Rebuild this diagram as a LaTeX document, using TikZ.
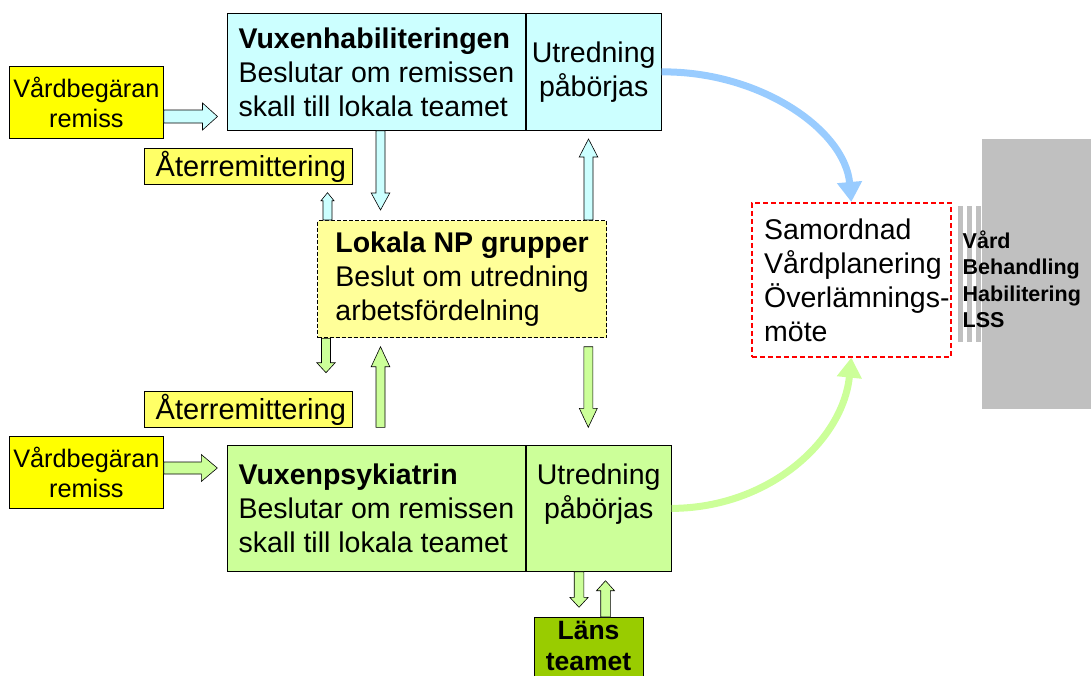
\documentclass[tikz,border=0pt]{standalone}
\usepackage{fontspec}
\setmainfont{Liberation Sans}
\usetikzlibrary{calc,arrows.meta}

\definecolor{hablue}{HTML}{CCFFFF}
\definecolor{psygreen}{HTML}{CCFF99}
\definecolor{remyellow}{HTML}{FFFF00}
\definecolor{remityellow}{HTML}{FFFF66}
\definecolor{npyellow}{HTML}{FFFF99}
\definecolor{lansgreen}{HTML}{99CC00}
\definecolor{arcblue}{HTML}{99CCFF}
\definecolor{lssgray}{HTML}{C0C0C0}

\tikzstyle{box} = [draw, line width=0.8pt, inner sep=0pt, anchor=north west, align=left, font=\fontsize{28.5}{34}\selectfont]
\tikzstyle{remiss} = [box, fill=remyellow, align=center, minimum width=154pt, minimum height=72pt, font=\fontsize{25.3}{30}\selectfont]
\tikzstyle{remit} = [box, fill=remityellow, minimum width=208pt, minimum height=36pt, font=\fontsize{29}{34}\selectfont]
\tikzstyle{arc} = [line width=7pt, -{Triangle[length=20pt,width=24pt]}]
\tikzset{blockarrow/.style n args={3}{draw, line width=0.6pt, to path={
  let \p1=($(\tikztotarget)!#3!(\tikztostart)$) in
  ($(\tikztostart)!#1!90:(\tikztotarget)$) -- ($(\p1)!#1!90:(\tikztotarget)$)
  -- ($(\p1)!#2!90:(\tikztotarget)$) -- (\tikztotarget)
  -- ($(\p1)!#2!-90:(\tikztotarget)$) -- ($(\p1)!#1!-90:(\tikztotarget)$)
  -- ($(\tikztostart)!#1!-90:(\tikztotarget)$) -- cycle}}}

\begin{document}
\begin{tikzpicture}[x=1pt, y=-1pt]
    \useasboundingbox (0,0) rectangle (1091,675);

    % habilitering
    \node (vhL) [box, fill=hablue, minimum width=298pt, minimum height=117pt] at (227,13) {\textbf{Vuxenhabiliteringen}\\Beslutar om remissen\\skall till lokala teamet};
    \node (vhR) [box, fill=hablue, align=center, minimum width=135pt, minimum height=117pt] at (vhL.north east) {Utredning\\påbörjas};

    \node (vbA) [remiss] at (9,66) {Vårdbegäran\\remiss};
    \coordinate (remA) at (217.5,116.5);
    \draw [blockarrow={6.5pt}{13.5pt}{15pt}, fill=hablue] (vbA.east |- remA) to (remA);

    \node (atA) [remit] at (144,148) {\,Återremittering};

    % lokala NP grupper
    \node (np) [box, fill=npyellow, dashed, dash pattern=on 4pt off 2pt, line width=1.3pt, minimum width=289pt, minimum height=117pt] at (317,220) {\textbf{Lokala NP grupper}\\Beslut om utredning\\arbetsfördelning};

    \coordinate (downA) at (380.5,210);
    \draw [blockarrow={4.5pt}{9.3pt}{17pt}, fill=hablue] (vhL.south -| downA) to (downA);
    \coordinate (upA) at (588.5,139);
    \draw [blockarrow={4.5pt}{9.3pt}{18pt}, fill=hablue] (np.north -| upA) to (upA);
    \coordinate (backA) at (327.5,192.7);
    \draw [blockarrow={4.5pt}{6.5pt}{8pt}, fill=hablue] (np.north -| backA) to (backA);

    \coordinate (backB) at (326,372.7);
    \draw [blockarrow={4.5pt}{9.2pt}{10pt}, fill=psygreen] (np.south -| backB) to (backB);
    \coordinate (upBs) at (380.5,427.3);
    \coordinate (upB) at (380.5,346.7);
    \draw [blockarrow={4.5pt}{9.3pt}{20pt}, fill=psygreen] (upBs) to (upB);
    \coordinate (downBs) at (588.3,346.7);
    \coordinate (downB) at (588.3,427.3);
    \draw [blockarrow={4.5pt}{9pt}{19pt}, fill=psygreen] (downBs) to (downB);

    \node (atB) [remit] at (144,391) {\,Återremittering};

    % psykiatri
    \node (vpL) [box, fill=psygreen, minimum width=298pt, minimum height=126pt] at (227,445) {\textbf{Vuxenpsykiatrin}\\Beslutar om remissen\\skall till lokala teamet};
    \node (vpR) [box, fill=psygreen, align=center, minimum width=145pt, minimum height=126pt] at (vpL.north east) {Utredning\\påbörjas\\~};

    \node (vbB) [remiss] at (9,436) {Vårdbegäran\\remiss};
    \coordinate (remB) at (217.3,468);
    \draw [blockarrow={6pt}{13.5pt}{16pt}, fill=psygreen] (vbB.east |- remB) to (remB);

    \node (lans) [box, fill=lansgreen, minimum width=109pt, minimum height=70pt] at (534,617) {};
    \node (lanstext) [align=center, inner sep=0pt, font=\fontsize{26.5}{31}\selectfont\bfseries] at (588.5,645.5) {Läns\\teamet};
    \coordinate (lansA) at (579,607.3);
    \draw [blockarrow={4.8pt}{9.2pt}{10pt}, fill=psygreen] (vpR.south -| lansA) to (lansA);
    \coordinate (lansB) at (605.5,580.7);
    \draw [blockarrow={4.8pt}{9pt}{10pt}, fill=psygreen] (lans.north -| lansB) to (lansB);

    % samordnad vardplanering
    \node (sam) [box, draw=red, dash pattern=on 5pt off 3pt, line width=1.6pt, minimum width=199pt, minimum height=154pt] at (751,202) {};
    \node (samtext) [anchor=west, align=left, inner sep=0pt, font=\fontsize{28.5}{33.8}\selectfont] at (764,280.5) {Samordnad\\Vårdplanering\\Överlämnings-\\möte};

    \node (lss) [fill=lssgray, anchor=north west, inner sep=0pt, minimum width=109pt, minimum height=270pt] at (982,139) {};
    \foreach \bx in {958,967,976}
      \fill [lssgray] (\bx,206) rectangle ++(5,136);
    \node (lsstext) [anchor=west, align=left, inner sep=0pt, font=\fontsize{21.5}{26.5}\selectfont\bfseries] at (962.5,279.5) {Vård\\Behandling\\Habilitering\\LSS};

    \draw [arc, arcblue] (vhR.east) .. controls (760,71) and (845,130) .. (sam.north);
    \draw [arc, psygreen] (vpR.east) .. controls (770,508) and (843,440) .. (sam.south);

  \end{tikzpicture}
\end{document}
